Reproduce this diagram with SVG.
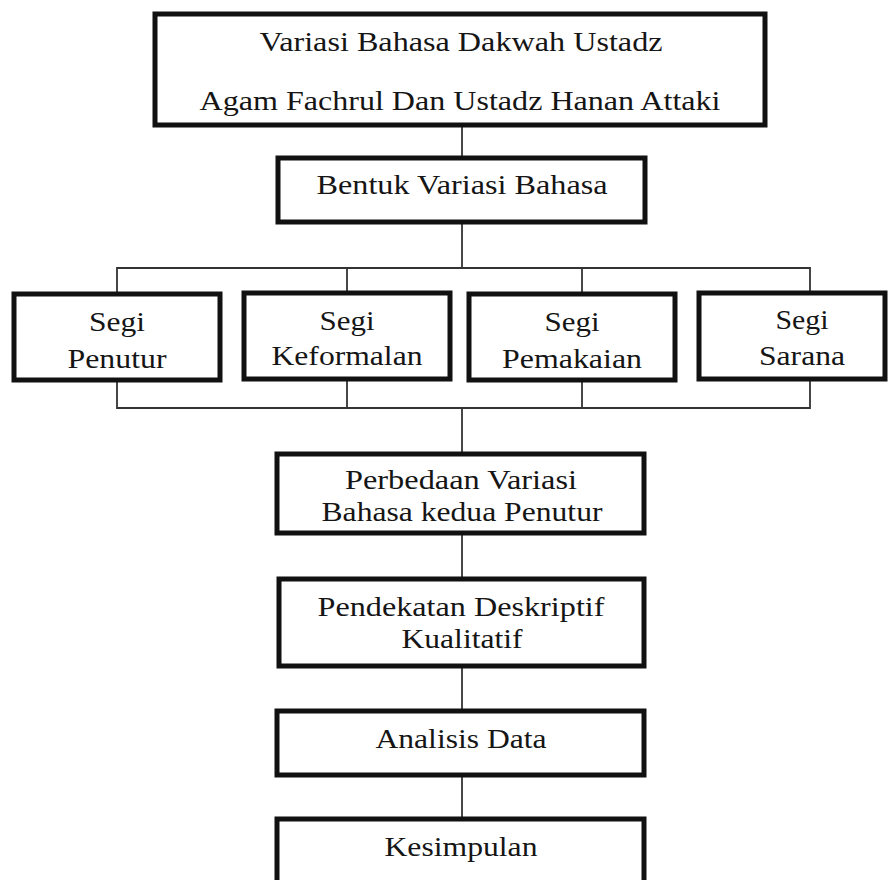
<svg xmlns="http://www.w3.org/2000/svg" width="895" height="880" viewBox="0 0 895 880">
<style>
.box{fill:#fff;stroke:#111;stroke-width:5}
.t{font-family:"Liberation Serif","Times New Roman",serif;font-size:28px;fill:#151515;text-anchor:middle}
.c{stroke:#333;stroke-width:1.8;fill:none}
</style>
<rect width="895" height="880" fill="#fff"/>
<g id="connectors">
<line class="c" x1="462" y1="125" x2="462" y2="158"/>
<line class="c" x1="462" y1="222" x2="462" y2="268"/>
<polyline class="c" points="117,293 117,268 810,268 810,292"/>
<line class="c" x1="347" y1="268" x2="347" y2="292"/>
<line class="c" x1="582" y1="268" x2="582" y2="293"/>
<polyline class="c" points="117,380 117,408 810,408 810,379"/>
<line class="c" x1="347" y1="380" x2="347" y2="408"/>
<line class="c" x1="582" y1="380" x2="582" y2="408"/>
<line class="c" x1="462" y1="408" x2="462" y2="453"/>
<line class="c" x1="462" y1="533" x2="462" y2="578"/>
<line class="c" x1="462" y1="666" x2="462" y2="710"/>
<line class="c" x1="462" y1="775" x2="462" y2="818"/>
</g>
<g id="n-top"><rect class="box" x="155" y="14" width="610" height="111"/>
<text class="t" x="461" y="51" textLength="403" lengthAdjust="spacingAndGlyphs">Variasi Bahasa Dakwah Ustadz</text>
<text class="t" x="460" y="110" textLength="521" lengthAdjust="spacingAndGlyphs">Agam Fachrul Dan Ustadz Hanan Attaki</text></g>
<g id="n-bentuk"><rect class="box" x="278" y="158" width="367" height="64"/>
<text class="t" x="462" y="194" textLength="291" lengthAdjust="spacingAndGlyphs">Bentuk Variasi Bahasa</text></g>
<g id="n-penutur"><rect class="box" x="14" y="294" width="206" height="86"/>
<text class="t" x="117" y="331" textLength="56" lengthAdjust="spacingAndGlyphs">Segi</text><text class="t" x="117" y="368" textLength="99" lengthAdjust="spacingAndGlyphs">Penutur</text></g>
<g id="n-keformalan"><rect class="box" x="244" y="293" width="206" height="86"/>
<text class="t" x="347" y="330" textLength="55" lengthAdjust="spacingAndGlyphs">Segi</text><text class="t" x="347" y="365" textLength="151" lengthAdjust="spacingAndGlyphs">Keformalan</text></g>
<g id="n-pemakaian"><rect class="box" x="469" y="294" width="206" height="86"/>
<text class="t" x="572" y="331" textLength="55" lengthAdjust="spacingAndGlyphs">Segi</text><text class="t" x="572" y="368" textLength="140" lengthAdjust="spacingAndGlyphs">Pemakaian</text></g>
<g id="n-sarana"><rect class="box" x="699" y="293" width="186" height="86"/>
<text class="t" x="802" y="329" textLength="53" lengthAdjust="spacingAndGlyphs">Segi</text><text class="t" x="802" y="365" textLength="86" lengthAdjust="spacingAndGlyphs">Sarana</text></g>
<g id="n-perbedaan"><rect class="box" x="277" y="454" width="367" height="79"/>
<text class="t" x="461" y="489" textLength="232" lengthAdjust="spacingAndGlyphs">Perbedaan Variasi</text><text class="t" x="462" y="521" textLength="281" lengthAdjust="spacingAndGlyphs">Bahasa kedua Penutur</text></g>
<g id="n-pendekatan"><rect class="box" x="279" y="579" width="365" height="87"/>
<text class="t" x="461" y="616" textLength="287" lengthAdjust="spacingAndGlyphs">Pendekatan Deskriptif</text><text class="t" x="462" y="648" textLength="121" lengthAdjust="spacingAndGlyphs">Kualitatif</text></g>
<g id="n-analisis"><rect class="box" x="277" y="711" width="367" height="64"/>
<text class="t" x="461" y="748" textLength="171" lengthAdjust="spacingAndGlyphs">Analisis Data</text></g>
<g id="n-kesimpulan"><rect class="box" x="277" y="819" width="367" height="70"/>
<text class="t" x="461" y="856" textLength="153" lengthAdjust="spacingAndGlyphs">Kesimpulan</text></g>
</svg>
